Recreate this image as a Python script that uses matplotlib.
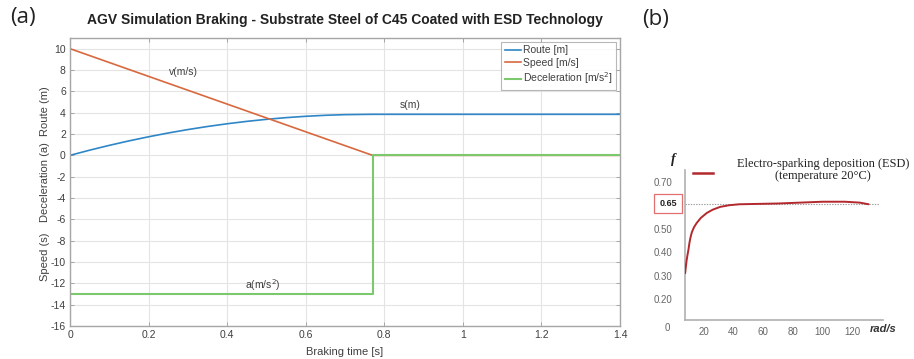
import numpy as np
import matplotlib
matplotlib.use("Agg")
import matplotlib.pyplot as plt
from matplotlib.transforms import blended_transform_factory

# ---------------- data: (a) AGV braking simulation ----------------
time_route = [0.0, 0.05, 0.10, 0.15, 0.20, 0.25, 0.30, 0.35, 0.40, 0.45, 0.50,
              0.55, 0.60, 0.65, 0.70, 0.77, 1.40]
route_m = [0.0, 0.484, 0.935, 1.354, 1.74, 2.094, 2.415, 2.704, 2.96, 3.184,
           3.375, 3.534, 3.66, 3.754, 3.815, 3.846, 3.846]
time_speed = [0.0, 0.77, 1.40]
speed_ms = [10.0, 0.0, 0.0]
time_decel = [0.0, 0.77, 0.77, 1.40]
decel_ms2 = [-13.0, -13.0, 0.0, 0.0]
x_ticks_a = [0, 0.2, 0.4, 0.6, 0.8, 1.0, 1.2, 1.4]
x_ticklabels_a = ["0", "0.2", "0.4", "0.6", "0.8", "1", "1.2", "1.4"]
y_ticks_a = list(range(-16, 11, 2))

# ---------------- data: (b) friction coefficient vs. speed ----------------
omega_rad_s = [7.5, 8.0, 8.5, 9.0, 9.7, 10.4, 11.0, 12.0, 13.5, 15.3, 18.0,
               22.0, 26.0, 31.0, 37.0, 44.0, 55.0, 70.0, 85.0, 100.0, 115.0,
               125.0, 131.0]
friction_f = [0.31, 0.34, 0.365, 0.385, 0.41, 0.44, 0.46, 0.485, 0.51, 0.535,
              0.565, 0.595, 0.615, 0.632, 0.642, 0.648, 0.650, 0.651, 0.653,
              0.655, 0.655, 0.653, 0.648]
f_ref = 0.65
y_ticks_b = [0.20, 0.30, 0.40, 0.50, 0.65, 0.70]
y_ticklabels_b = ["0.20", "0.30", "0.40", "0.50", "", "0.70"]
x_ticks_b = [20, 40, 60, 80, 100, 120]

C_ROUTE = "#2f86c6"
C_SPEED = "#d8683e"
C_DECEL = "#7cc86c"
C_ESD = "#b3282d"
SPINE = "#a6a6a6"
TXT = "#404040"

plt.rcParams["font.family"] = ["Liberation Sans", "DejaVu Sans"]
plt.rcParams["axes.unicode_minus"] = False

fig = plt.figure(figsize=(9.14, 3.59), dpi=100)

# ======================= panel (a) =======================
ax = fig.add_axes([70 / 914, 1 - 326 / 359, 550 / 914, 288 / 359])
ax.plot(time_route, route_m, color=C_ROUTE, lw=1.2, label="Route [m]")
ax.plot(time_speed, speed_ms, color=C_SPEED, lw=1.2, label="Speed [m/s]")
ax.plot(time_decel, decel_ms2, color=C_DECEL, lw=1.5,
        label="Deceleration [m/s$^2$]")
ax.set_xlim(0, 1.4)
ax.set_ylim(-16, 11)
ax.set_xticks(x_ticks_a)
ax.set_xticklabels(x_ticklabels_a)
ax.set_yticks(y_ticks_a)
ax.grid(True, color="#e4e4e4", lw=0.8)
ax.set_axisbelow(True)
for s in ax.spines.values():
    s.set_color(SPINE)
    s.set_linewidth(1.0)
ax.tick_params(direction="in", length=3, width=0.7, color=SPINE,
               top=True, right=True, labelsize=7.5, labelcolor=TXT, pad=3)

ax.set_title("AGV Simulation Braking - Substrate Steel of C45 Coated with ESD Technology",
             fontsize=10, fontweight="bold", color="#222222", pad=10)
ax.set_xlabel("Braking time [s]", fontsize=8, color=TXT, labelpad=5)

# stacked y-axis description
for txt, yc in [("Speed (s)", 257), ("Deceleration (a)", 182), ("Route (m)", 111)]:
    fig.text(45 / 914, 1 - yc / 359, txt, rotation=90, ha="center", va="center",
             fontsize=8, color=TXT)

ax.text(0.288, 7.8, "v(m/s)", fontsize=7.5, color=TXT, ha="center", va="center")
ax.text(0.865, 4.72, "s(m)", fontsize=7.5, color=TXT, ha="center", va="center")
ax.text(0.491, -12.15, "a(m/s$^2$)", fontsize=7.5, color=TXT, ha="center",
        va="center")

leg = ax.legend(loc="upper right", fontsize=7.5, frameon=True, fancybox=False,
                handlelength=1.6, handletextpad=0.15, borderpad=0.35,
                labelspacing=0.25, borderaxespad=0.35)
leg.get_frame().set_edgecolor(SPINE)
leg.get_frame().set_linewidth(0.8)
for t in leg.get_texts():
    t.set_color(TXT)

fig.text(10 / 914, 1 - 18 / 359, "(a)", fontsize=16, color="#222222",
         va="center", ha="left", family=["Open Sans", "DejaVu Sans"])
fig.text(642 / 914, 1 - 20 / 359, "(b)", fontsize=16, color="#222222",
         va="center", ha="left", family=["Open Sans", "DejaVu Sans"])

# ======================= panel (b) =======================
# y axis drawn with the spacing of the printed scale (0.65 sits one step below 0.70)
y_val_knots = [0.0, 0.50, 0.65, 0.70, 1.0]
y_pos_knots = [0.0, 0.50, 0.606, 0.70, 1.0]


def fwd(v):
    return np.interp(v, y_val_knots, y_pos_knots)


def inv(p):
    return np.interp(p, y_pos_knots, y_val_knots)


bx = fig.add_axes([685 / 914, 1 - 320 / 359, 198 / 914, 150 / 359])
bx.set_yscale("function", functions=(fwd, inv))
bx.plot(omega_rad_s, friction_f, color=C_ESD, lw=1.4, solid_capstyle="round",
        zorder=3)
bx.hlines(f_ref, 7.4, 137.8, colors="#9a9a9a", linestyles=(0, (1.2, 1.2)),
          lw=0.8, zorder=2)
bx.set_xlim(7.4, 140.7)
bx.set_ylim(inv(0.110), inv(0.751))
bx.set_yticks(y_ticks_b)
bx.set_yticklabels(y_ticklabels_b)
bx.set_xticks(x_ticks_b)
bx.minorticks_off()
for side in ("top", "right"):
    bx.spines[side].set_visible(False)
for side in ("left", "bottom"):
    bx.spines[side].set_color("#b0b0b0")
    bx.spines[side].set_linewidth(1.2)
bx.tick_params(length=0, labelsize=7, labelcolor="#666666")
bx.tick_params(axis="y", pad=9)
bx.tick_params(axis="x", pad=5)
bx.set_facecolor("none")

tr = blended_transform_factory(bx.transAxes, bx.transData)
bx.text(-0.085, f_ref, "0.65", transform=tr, ha="center", va="center",
        fontsize=6.5, fontweight="bold", color="#222222",
        bbox=dict(boxstyle="square,pad=0.55", fc="white", ec="#e07070", lw=0.9))
bx.text(-0.09, -0.053, "0", transform=bx.transAxes, ha="center", va="center",
        fontsize=7, color="#666666")
bx.text(0.934, -0.058, "rad/s", transform=bx.transAxes, ha="left", va="center",
        fontsize=8, fontweight="bold", style="italic", color="#333333")
bx.text(-0.06, 1.067, "f", transform=bx.transAxes, ha="center", va="center",
        fontsize=10, fontweight="bold", style="italic", color="#222222",
        family=["Liberation Serif", "DejaVu Serif"])
bx.plot([0.04, 0.14], [0.98, 0.98], transform=bx.transAxes, color=C_ESD,
        lw=1.8, clip_on=False)
bx.text(0.697, 1.0, "Electro-sparking deposition (ESD)\n(temperature 20\u00b0C)",
        transform=bx.transAxes, ha="center", va="center", fontsize=8.9,
        color="#222222", linespacing=1.0,
        family=["Liberation Serif", "DejaVu Serif"])

fig.savefig("out.png", dpi=100)
